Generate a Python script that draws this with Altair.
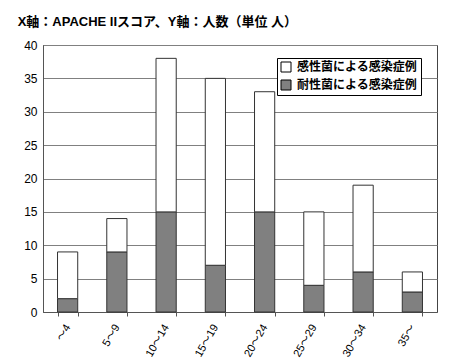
import altair as alt
import pandas as pd

categories = ["～4", "5～9", "10～14", "15～19", "20～24", "25～29", "30～34", "35～"]
resistant = [2, 9, 15, 7, 15, 4, 6, 3]
total = [9, 14, 38, 35, 33, 15, 19, 6]
susceptible = [t - r for t, r in zip(total, resistant)]

S_LABEL = "感性菌による感染症例"
R_LABEL = "耐性菌による感染症例"

rows = []
for c, r, s in zip(categories, resistant, susceptible):
    rows.append({"cat": c, "type": R_LABEL, "n": r, "o": 0})
    rows.append({"cat": c, "type": S_LABEL, "n": s, "o": 1})
df = pd.DataFrame(rows)

FONT = "Liberation Sans, Noto Sans CJK JP"

chart = alt.Chart(df).mark_bar(stroke="#333333", strokeWidth=1).encode(
    x=alt.X("cat:N", sort=categories, title=None,
            scale=alt.Scale(paddingInner=0.59, paddingOuter=0.295),
            axis=alt.Axis(labelAngle=-60, labelFontSize=11, labelFont=FONT,
                          labelColor="black", tickBand="extent", ticks=True,
                          tickSize=4, tickColor="#555555", domain=True,
                          domainColor="#555555", labelPadding=9)),
    y=alt.Y("n:Q", stack="zero", title=None,
            scale=alt.Scale(domain=[0, 40], nice=False),
            axis=alt.Axis(values=list(range(0, 41, 5)), labelFontSize=12,
                          labelFont=FONT, labelColor="black", ticks=False,
                          grid=True, gridColor="#808080", gridWidth=1,
                          domain=True, domainColor="#555555", labelPadding=6)),
    color=alt.Color("type:N",
                    scale=alt.Scale(domain=[S_LABEL, R_LABEL], range=["#ffffff", "#808080"]),
                    legend=alt.Legend(title=None, orient="none", legendX=234, legendY=13,
                                      symbolType="square", symbolSize=100,
                                      symbolStrokeColor="black", symbolStrokeWidth=1,
                                      labelFont="Noto Sans CJK JP", labelFontSize=12,
                                      labelFontWeight="bold", labelColor="black",
                                      strokeColor="black", fillColor="white",
                                      padding=3, rowPadding=4, labelOffset=5)),
    order=alt.Order("o:Q", sort="ascending"),
).properties(
    width=394, height=267,
    title=alt.TitleParams("X軸：APACHE IIスコア、Y軸：人数（単位 人）",
                          anchor="start", frame="bounds", fontSize=13,
                          font="Liberation Sans, Noto Sans CJK JP", fontWeight="bold",
                          color="black", dx=-6, offset=10),
    autosize=alt.AutoSizeParams(type="none"),
    padding={"left": 43, "top": 45, "right": 23, "bottom": 49},
).configure_view(stroke="#444444", strokeWidth=1)

chart.save("out.html", embed_options={"renderer": "svg", "actions": False})
